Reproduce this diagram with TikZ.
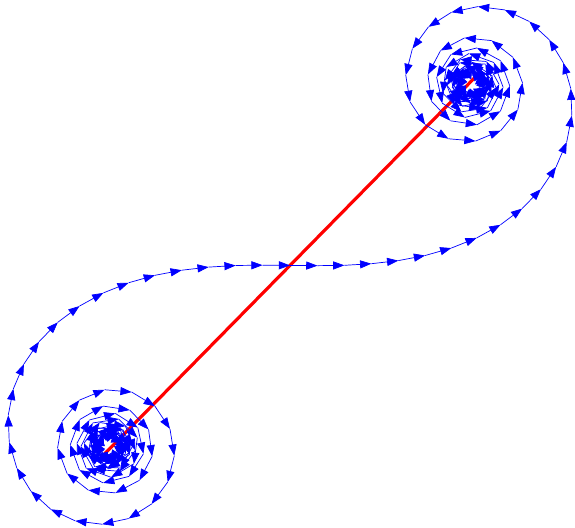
\documentclass[tikz,border=0pt]{standalone}
\usepackage{tikz}
\usetikzlibrary{arrows.meta}

% Fresnel integrals, rational approximation (A&S 7.3.32/33)
\tikzset{
  declare function={
    fres(\t)=(1+0.926*\t)/(2+1.792*\t+3.104*\t*\t);
    gres(\t)=1/(2+\t*(4.142+\t*(3.492+6.670*\t)));
    cornux(\t)=sign(\t)*(0.5+fres(abs(\t))*sin(90*\t*\t)-gres(abs(\t))*cos(90*\t*\t));
    cornuy(\t)=sign(\t)*(0.5-fres(abs(\t))*cos(90*\t*\t)-gres(abs(\t))*sin(90*\t*\t));
  },
  phasor/.style={blue,line width=0.4pt,-{Triangle[length=6.4pt,width=4.6pt]}},
  resultant/.style={red,line width=1.8pt},
}

\begin{document}
\begin{tikzpicture}[x=7.24cm,y=7.24cm]
  \useasboundingbox (-0.801,-0.725) rectangle (0.787,0.733);
  % sample points of the spiral
  \foreach \k in {-108,...,108}
    \coordinate (p\k) at ({cornux(\k*0.075)},{cornuy(\k*0.075)});
  \draw[resultant] (p-108) -- (p108);
  \foreach \k [remember=\k as \prev (initially -108)] in {-107,...,108}
    \draw[phasor] (p\prev) -- (p\k);
\end{tikzpicture}
\end{document}
